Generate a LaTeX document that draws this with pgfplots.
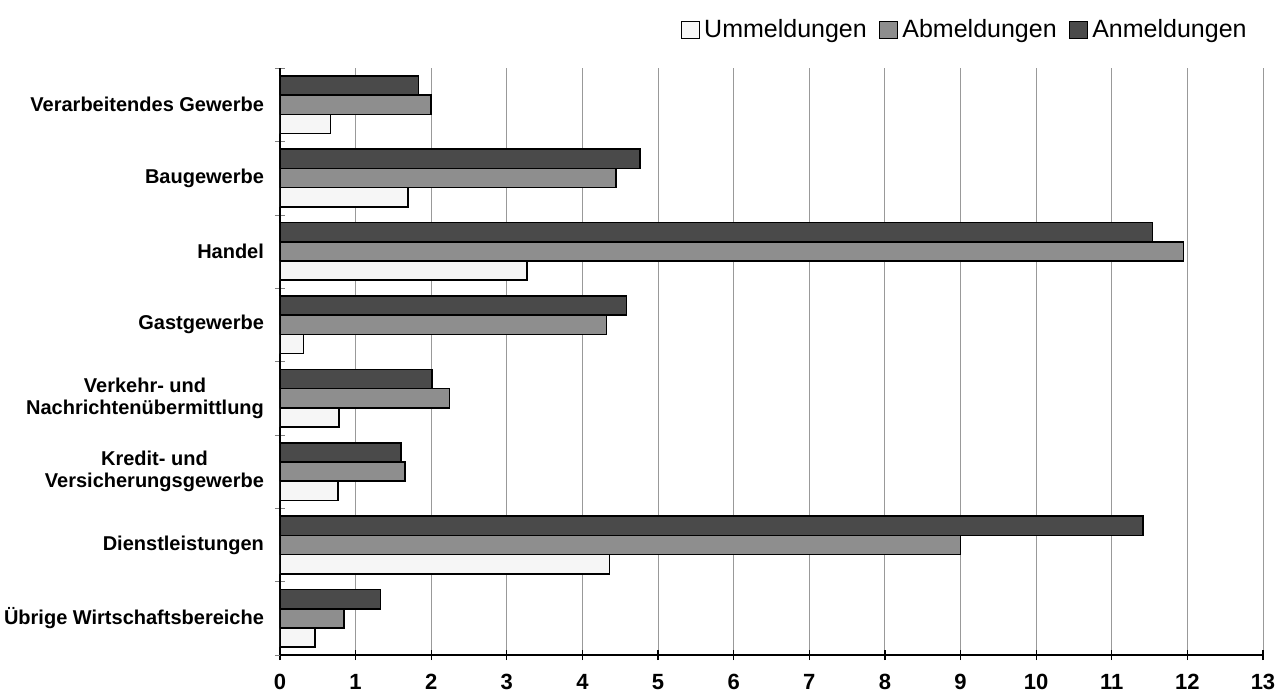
\documentclass[border=0pt]{standalone}
\usepackage{pgfplots}
\pgfplotsset{compat=1.18}
\usepackage{fontspec}
\setmainfont{Liberation Sans}

\definecolor{anm}{HTML}{4A4A4A}
\definecolor{abm}{HTML}{8E8E8E}
\definecolor{umm}{HTML}{F6F6F6}

\begin{document}
\begin{tikzpicture}
  \useasboundingbox (-140pt,-19pt) rectangle (503pt,327.5pt);
  \begin{axis}[
      at={(0pt,0pt)}, anchor=south west,
      scale only axis,
      width=491.5pt, height=293.5pt,
      xbar=0pt,
      bar width=9.6pt,
      xmin=0, xmax=13,
      xtick={0,...,13},
      ymin=-0.5, ymax=7.5,
      y dir=reverse,
      ytick={0,...,7},
      yticklabels={
        Verarbeitendes Gewerbe,
        Baugewerbe,
        Handel,
        Gastgewerbe,
        {Verkehr- und\\Nachrichtenübermittlung},
        {Kredit- und\\Versicherungsgewerbe},
        Dienstleistungen,
        Übrige Wirtschaftsbereiche},
      minor ytick={-0.5,0.5,...,7.5},
      major y tick style={draw=none},
      minor tick length=5pt,
      axis x line=bottom,
      axis y line=left,
      axis line style={-, black, line width=0.9pt},
      xtick style={black, line width=0.6pt},
      major tick length=5pt,
      xtick pos=bottom,
      tick align=center,
      xmajorgrids=true,
      grid style={gray!80, line width=0.5pt},
      /pgf/number format/assume math mode=true,
      xticklabel style={font=\fontsize{11}{13}\selectfont\bfseries, yshift=-3.5pt},
      yticklabel style={font=\fontsize{10}{11.2}\selectfont\bfseries, align=center, xshift=-2pt},
      legend columns=-1,
      legend style={at={(1,1)}, anchor=east, xshift=-3pt, yshift=19pt,
        draw=none, fill=none, font=\fontsize{12.5}{14}\selectfont,
        /tikz/every even column/.append style={column sep=4pt}},
      legend image code/.code={\draw[#1, line width=0.8pt] (0pt,-4.2pt) rectangle (9pt,4.2pt);},
      every axis plot/.append style={draw=black, line width=0.8pt},
    ]
    \addplot[fill=umm] coordinates {
      (0.67,0) (1.69,1) (3.27,2) (0.31,3) (0.78,4) (0.77,5) (4.36,6) (0.46,7)
    };
    \addplot[fill=abm] coordinates {
      (2.00,0) (4.44,1) (11.95,2) (4.32,3) (2.24,4) (1.65,5) (9.00,6) (0.85,7)
    };
    \addplot[fill=anm] coordinates {
      (1.83,0) (4.76,1) (11.54,2) (4.58,3) (2.01,4) (1.60,5) (11.41,6) (1.33,7)
    };
    \legend{Ummeldungen, Abmeldungen, Anmeldungen}
  \end{axis}
\end{tikzpicture}
\end{document}
